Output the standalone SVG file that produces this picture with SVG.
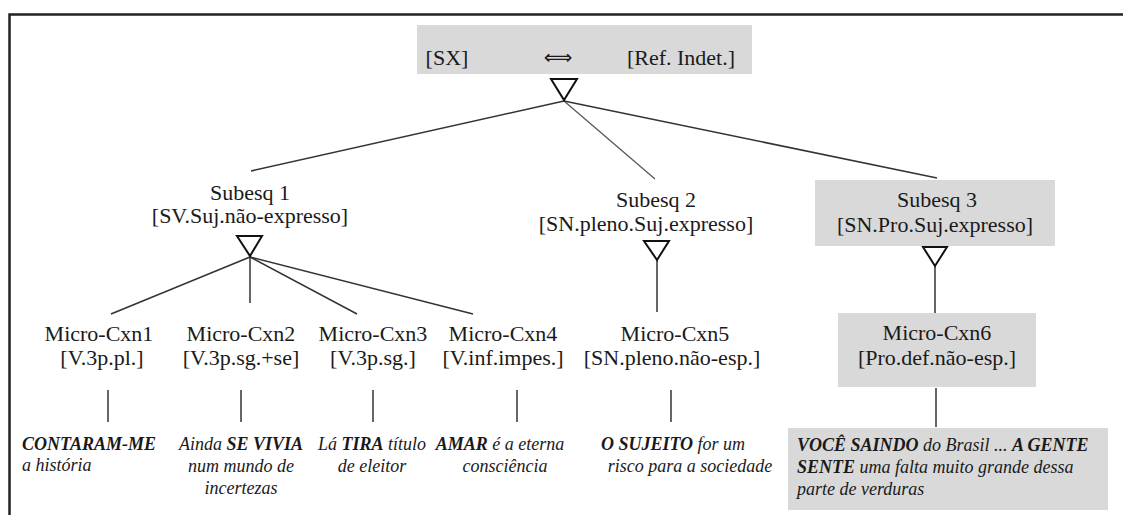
<svg xmlns="http://www.w3.org/2000/svg" width="1123" height="515" viewBox="0 0 1123 515">
  <defs>
    <style>
      text { font-family: 'Liberation Serif', 'Tinos', 'DejaVu Serif', serif; }
      .lbl { font-size: 22px; fill: #1a1a1a; text-anchor: middle; }
      .ex { font-size: 18px; font-style: italic; fill: #1a1a1a; }
      .exc { text-anchor: middle; }
      .b { font-weight: bold; }
      .box { fill: #d9d9d9; }
      .tri { fill: #ffffff; stroke: #111111; stroke-width: 2; stroke-linejoin: miter; }
      .edge { stroke: #333333; stroke-width: 1.5; fill: none; }
      .edge.thin { stroke: #555555; stroke-width: 1.2; }
      .frame { stroke: #222222; stroke-width: 2.5; fill: none; }
    </style>
  </defs>

  <rect width="1123" height="515" fill="#ffffff"/>

  <!-- outer frame (top and left edges) -->
  <path class="frame" d="M9.5,515 V14.5 H1123"/>

  <!-- connectors -->
  <g id="connectors">
    <!-- root to sub-schemas -->
    <line class="edge" x1="564" y1="101" x2="251" y2="171"/>
    <line class="edge thin" x1="564" y1="101" x2="655" y2="179"/>
    <line class="edge" x1="564" y1="101" x2="937" y2="178"/>
    <!-- Subesq 1 to micro-constructions -->
    <line class="edge" x1="250" y1="257" x2="111" y2="314"/>
    <line class="edge" x1="250" y1="257" x2="250" y2="303"/>
    <line class="edge" x1="250" y1="257" x2="357" y2="314"/>
    <line class="edge" x1="250" y1="257" x2="473" y2="314"/>
    <!-- Subesq 2 / 3 to micro-constructions -->
    <line class="edge" x1="657" y1="260" x2="657" y2="312"/>
    <line class="edge" x1="935" y1="266" x2="935" y2="313"/>
    <!-- micro-constructions to examples -->
    <line class="edge" x1="108" y1="390" x2="108" y2="422"/>
    <line class="edge" x1="241" y1="390" x2="241" y2="422"/>
    <line class="edge" x1="373" y1="390" x2="373" y2="422"/>
    <line class="edge" x1="517" y1="390" x2="517" y2="422"/>
    <line class="edge" x1="671" y1="390" x2="671" y2="422"/>
    <line class="edge" x1="936" y1="388" x2="936" y2="427"/>
  </g>

  <!-- root schema -->
  <g id="root">
    <rect class="box" x="417" y="25" width="335" height="49"/>
    <text class="lbl" x="447" y="65">[SX]</text>
    <text x="558" y="64" style="font-family: 'DejaVu Sans', sans-serif" font-size="20" text-anchor="middle" fill="#1a1a1a">⟺</text>
    <text class="lbl" x="681" y="65">[Ref. Indet.]</text>
    <polygon class="tri" points="551,79 577,79 564,100"/>
  </g>

  <g id="subesq1">
    <text class="lbl" x="250" y="200">Subesq 1</text>
    <text class="lbl" x="250" y="223">[SV.Suj.não-expresso]</text>
    <polygon class="tri" points="237,236 262,236 250,256"/>
  </g>

  <g id="subesq2">
    <text class="lbl" x="656" y="207">Subesq 2</text>
    <text class="lbl" x="646" y="231">[SN.pleno.Suj.expresso]</text>
    <polygon class="tri" points="644,241 669,241 657,260"/>
  </g>

  <g id="subesq3">
    <rect class="box" x="815" y="180" width="240" height="66"/>
    <text class="lbl" x="937" y="207">Subesq 3</text>
    <text class="lbl" x="935" y="232">[SN.Pro.Suj.expresso]</text>
    <polygon class="tri" points="923,247 947,247 935,266"/>
  </g>

  <g id="micro1">
    <text class="lbl" x="99" y="341">Micro-Cxn1</text>
    <text class="lbl" x="102" y="365">[V.3p.pl.]</text>
  </g>
  <g id="micro2">
    <text class="lbl" x="241" y="341">Micro-Cxn2</text>
    <text class="lbl" x="241" y="365">[V.3p.sg.+se]</text>
  </g>
  <g id="micro3">
    <text class="lbl" x="373" y="341">Micro-Cxn3</text>
    <text class="lbl" x="373" y="365">[V.3p.sg.]</text>
  </g>
  <g id="micro4">
    <text class="lbl" x="503" y="341">Micro-Cxn4</text>
    <text class="lbl" x="503" y="365">[V.inf.impes.]</text>
  </g>
  <g id="micro5">
    <text class="lbl" x="675" y="341">Micro-Cxn5</text>
    <text class="lbl" x="672" y="365">[SN.pleno.não-esp.]</text>
  </g>
  <g id="micro6">
    <rect class="box" x="838" y="313" width="198" height="74"/>
    <text class="lbl" x="937" y="340">Micro-Cxn6</text>
    <text class="lbl" x="937" y="365">[Pro.def.não-esp.]</text>
  </g>

  <!-- examples -->
  <g id="ex1">
    <text class="ex" x="22" y="450"><tspan class="b">CONTARAM-ME</tspan></text>
    <text class="ex" x="22" y="471">a história</text>
  </g>
  <g id="ex2">
    <text class="ex exc" x="241" y="450">Ainda <tspan class="b">SE VIVIA</tspan></text>
    <text class="ex exc" x="241" y="472">num mundo de</text>
    <text class="ex exc" x="241" y="494">incertezas</text>
  </g>
  <g id="ex3">
    <text class="ex exc" x="372" y="450">Lá <tspan class="b">TIRA</tspan> título</text>
    <text class="ex exc" x="372" y="472">de eleitor</text>
  </g>
  <g id="ex4">
    <text class="ex exc" x="500" y="450"><tspan class="b">AMAR</tspan>  é a eterna</text>
    <text class="ex exc" x="505" y="472">consciência</text>
  </g>
  <g id="ex5">
    <text class="ex exc" x="673" y="450"><tspan class="b">O SUJEITO</tspan>  for um</text>
    <text class="ex exc" x="690" y="472">risco para a sociedade</text>
  </g>
  <g id="ex6">
    <rect class="box" x="788" y="428" width="320" height="82"/>
    <text class="ex" x="797" y="451"><tspan class="b">VOCÊ SAINDO</tspan> do Brasil ... <tspan class="b">A GENTE</tspan></text>
    <text class="ex" x="797" y="473"><tspan class="b">SENTE</tspan> uma falta muito grande dessa</text>
    <text class="ex" x="797" y="495">parte de verduras</text>
  </g>
</svg>
